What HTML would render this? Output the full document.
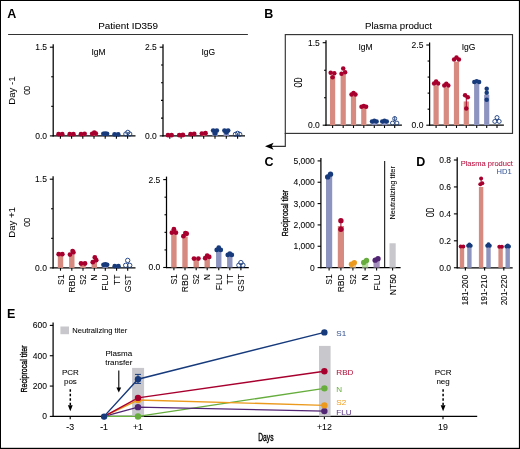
<!DOCTYPE html>
<html><head><meta charset="utf-8"><style>
html,body{margin:0;padding:0;background:#fff;}
svg{display:block;font-family:"Liberation Sans",sans-serif;will-change:transform;}
</style></head><body>
<svg width="520" height="449" viewBox="0 0 520 449">
<rect x="0" y="0" width="520" height="449" fill="#fff"/>
<rect x="0.00" y="0.00" width="520.00" height="1.00" fill="#000"/>
<rect x="0.00" y="0.00" width="1.00" height="449.00" fill="#000"/>
<rect x="518.90" y="0.00" width="1.10" height="449.00" fill="#000"/>
<rect x="0.00" y="447.80" width="520.00" height="1.20" fill="#000"/>
<text x="7.20" y="17.90" font-size="12.5" text-anchor="start" fill="#000" stroke="#000" stroke-width="0" font-weight="bold" >A</text>
<text x="128.10" y="28.80" font-size="9.9" text-anchor="middle" fill="#000" stroke="#000" stroke-width="0.06" font-weight="normal" >Patient ID359</text>
<line x1="8.10" y1="34.50" x2="247.90" y2="34.50" stroke="#333" stroke-width="1.2" />
<line x1="53.20" y1="44.20" x2="53.20" y2="136.50" stroke="#000" stroke-width="1.25" />
<line x1="49.90" y1="47.20" x2="53.20" y2="47.20" stroke="#000" stroke-width="1.1" />
<text x="47.00" y="50.13" font-size="8.5" text-anchor="end" fill="#000" stroke="#000" stroke-width="0.06" font-weight="normal" >1.5</text>
<line x1="49.90" y1="135.90" x2="53.20" y2="135.90" stroke="#000" stroke-width="1.1" />
<text x="47.00" y="138.83" font-size="8.5" text-anchor="end" fill="#000" stroke="#000" stroke-width="0.06" font-weight="normal" >0.0</text>
<line x1="51.20" y1="106.33" x2="53.20" y2="106.33" stroke="#000" stroke-width="1.1" />
<line x1="51.20" y1="76.77" x2="53.20" y2="76.77" stroke="#000" stroke-width="1.1" />
<line x1="52.70" y1="135.90" x2="135.50" y2="135.90" stroke="#000" stroke-width="1.25" />
<line x1="60.40" y1="135.90" x2="60.40" y2="138.70" stroke="#000" stroke-width="1.1" />
<line x1="71.60" y1="135.90" x2="71.60" y2="138.70" stroke="#000" stroke-width="1.1" />
<line x1="82.80" y1="135.90" x2="82.80" y2="138.70" stroke="#000" stroke-width="1.1" />
<line x1="94.00" y1="135.90" x2="94.00" y2="138.70" stroke="#000" stroke-width="1.1" />
<line x1="105.20" y1="135.90" x2="105.20" y2="138.70" stroke="#000" stroke-width="1.1" />
<line x1="116.40" y1="135.90" x2="116.40" y2="138.70" stroke="#000" stroke-width="1.1" />
<line x1="127.60" y1="135.90" x2="127.60" y2="138.70" stroke="#000" stroke-width="1.1" />
<rect x="57.70" y="134.72" width="5.40" height="1.18" fill="#d68a80"/>
<circle cx="58.60" cy="134.13" r="2.40" fill="#a8002e"/>
<circle cx="62.20" cy="134.13" r="2.40" fill="#a8002e"/>
<rect x="68.90" y="134.72" width="5.40" height="1.18" fill="#d68a80"/>
<circle cx="69.80" cy="134.13" r="2.40" fill="#a8002e"/>
<circle cx="73.40" cy="134.13" r="2.40" fill="#a8002e"/>
<rect x="80.10" y="134.42" width="5.40" height="1.48" fill="#d68a80"/>
<circle cx="81.00" cy="134.13" r="2.40" fill="#a8002e"/>
<circle cx="84.60" cy="133.83" r="2.40" fill="#a8002e"/>
<rect x="91.30" y="134.13" width="5.40" height="1.77" fill="#d68a80"/>
<circle cx="92.20" cy="133.83" r="2.40" fill="#a8002e"/>
<circle cx="94.30" cy="132.65" r="2.40" fill="#a8002e"/>
<circle cx="95.80" cy="133.53" r="2.40" fill="#a8002e"/>
<rect x="102.50" y="134.72" width="5.40" height="1.18" fill="#8d94c0"/>
<circle cx="103.40" cy="133.83" r="2.40" fill="#163a7c"/>
<circle cx="107.00" cy="133.83" r="2.40" fill="#163a7c"/>
<circle cx="105.20" cy="133.53" r="2.40" fill="#163a7c"/>
<rect x="113.70" y="135.01" width="5.40" height="0.89" fill="#8d94c0"/>
<circle cx="114.60" cy="134.42" r="2.40" fill="#163a7c"/>
<circle cx="118.20" cy="134.42" r="2.40" fill="#163a7c"/>
<text x="98.50" y="55.40" font-size="8.5" text-anchor="middle" fill="#000" stroke="#000" stroke-width="0.06" font-weight="normal" >IgM</text>
<circle cx="125.80" cy="134.00" r="2.10" fill="#fff" fill-opacity="0" stroke="#163a7c" stroke-width="0.9"/>
<circle cx="129.80" cy="134.00" r="2.10" fill="#fff" fill-opacity="0" stroke="#163a7c" stroke-width="0.9"/>
<circle cx="127.80" cy="132.30" r="2.10" fill="#fff" fill-opacity="0" stroke="#163a7c" stroke-width="0.9"/>
<line x1="163.00" y1="44.20" x2="163.00" y2="136.50" stroke="#000" stroke-width="1.25" />
<line x1="159.70" y1="47.20" x2="163.00" y2="47.20" stroke="#000" stroke-width="1.1" />
<text x="156.80" y="50.13" font-size="8.5" text-anchor="end" fill="#000" stroke="#000" stroke-width="0.06" font-weight="normal" >2.5</text>
<line x1="159.70" y1="135.90" x2="163.00" y2="135.90" stroke="#000" stroke-width="1.1" />
<text x="156.80" y="138.83" font-size="8.5" text-anchor="end" fill="#000" stroke="#000" stroke-width="0.06" font-weight="normal" >0.0</text>
<line x1="161.00" y1="118.16" x2="163.00" y2="118.16" stroke="#000" stroke-width="1.1" />
<line x1="161.00" y1="100.42" x2="163.00" y2="100.42" stroke="#000" stroke-width="1.1" />
<line x1="161.00" y1="82.68" x2="163.00" y2="82.68" stroke="#000" stroke-width="1.1" />
<line x1="161.00" y1="64.94" x2="163.00" y2="64.94" stroke="#000" stroke-width="1.1" />
<line x1="162.50" y1="135.90" x2="245.00" y2="135.90" stroke="#000" stroke-width="1.25" />
<line x1="169.80" y1="135.90" x2="169.80" y2="138.70" stroke="#000" stroke-width="1.1" />
<line x1="181.10" y1="135.90" x2="181.10" y2="138.70" stroke="#000" stroke-width="1.1" />
<line x1="192.40" y1="135.90" x2="192.40" y2="138.70" stroke="#000" stroke-width="1.1" />
<line x1="203.70" y1="135.90" x2="203.70" y2="138.70" stroke="#000" stroke-width="1.1" />
<line x1="215.00" y1="135.90" x2="215.00" y2="138.70" stroke="#000" stroke-width="1.1" />
<line x1="226.30" y1="135.90" x2="226.30" y2="138.70" stroke="#000" stroke-width="1.1" />
<line x1="237.60" y1="135.90" x2="237.60" y2="138.70" stroke="#000" stroke-width="1.1" />
<rect x="167.10" y="135.19" width="5.40" height="0.71" fill="#d68a80"/>
<circle cx="168.00" cy="135.19" r="2.40" fill="#a8002e"/>
<circle cx="171.60" cy="135.19" r="2.40" fill="#a8002e"/>
<rect x="178.40" y="135.19" width="5.40" height="0.71" fill="#d68a80"/>
<circle cx="179.30" cy="135.19" r="2.40" fill="#a8002e"/>
<circle cx="182.90" cy="135.01" r="2.40" fill="#a8002e"/>
<rect x="189.70" y="134.48" width="5.40" height="1.42" fill="#d68a80"/>
<circle cx="190.60" cy="134.13" r="2.40" fill="#a8002e"/>
<circle cx="194.20" cy="133.95" r="2.40" fill="#a8002e"/>
<rect x="201.00" y="133.77" width="5.40" height="2.13" fill="#d68a80"/>
<circle cx="201.90" cy="133.59" r="2.40" fill="#a8002e"/>
<circle cx="205.50" cy="133.24" r="2.40" fill="#a8002e"/>
<rect x="212.30" y="132.35" width="5.40" height="3.55" fill="#8d94c0"/>
<circle cx="213.20" cy="130.58" r="2.40" fill="#163a7c"/>
<circle cx="216.80" cy="130.58" r="2.40" fill="#163a7c"/>
<circle cx="215.00" cy="133.42" r="2.40" fill="#163a7c"/>
<rect x="223.60" y="131.64" width="5.40" height="4.26" fill="#8d94c0"/>
<circle cx="224.50" cy="130.58" r="2.40" fill="#163a7c"/>
<circle cx="228.10" cy="130.58" r="2.40" fill="#163a7c"/>
<circle cx="226.30" cy="132.35" r="2.40" fill="#163a7c"/>
<text x="208.30" y="55.40" font-size="8.5" text-anchor="middle" fill="#000" stroke="#000" stroke-width="0.06" font-weight="normal" >IgG</text>
<circle cx="235.40" cy="134.30" r="2.10" fill="#fff" fill-opacity="0" stroke="#163a7c" stroke-width="0.9"/>
<circle cx="239.80" cy="134.30" r="2.10" fill="#fff" fill-opacity="0" stroke="#163a7c" stroke-width="0.9"/>
<circle cx="237.60" cy="133.30" r="2.10" fill="#fff" fill-opacity="0" stroke="#163a7c" stroke-width="0.9"/>
<text transform="translate(15.00,90.65) rotate(-90)" font-size="9.6" text-anchor="middle" fill="#000" stroke="#000" stroke-width="0.06" >Day -1</text>
<text transform="translate(30.00,90.30) rotate(-90)" font-size="9.7" text-anchor="middle" fill="#000" stroke="#000" stroke-width="0.06" textLength="9.1" lengthAdjust="spacingAndGlyphs">OD</text>
<text transform="translate(15.30,222.40) rotate(-90)" font-size="9.6" text-anchor="middle" fill="#000" stroke="#000" stroke-width="0.06" >Day +1</text>
<text transform="translate(30.10,222.10) rotate(-90)" font-size="9.7" text-anchor="middle" fill="#000" stroke="#000" stroke-width="0.06" textLength="9.1" lengthAdjust="spacingAndGlyphs">OD</text>
<line x1="53.10" y1="176.20" x2="53.10" y2="268.50" stroke="#000" stroke-width="1.25" />
<line x1="49.80" y1="179.20" x2="53.10" y2="179.20" stroke="#000" stroke-width="1.1" />
<text x="46.90" y="182.13" font-size="8.5" text-anchor="end" fill="#000" stroke="#000" stroke-width="0.06" font-weight="normal" >1.5</text>
<line x1="49.80" y1="267.90" x2="53.10" y2="267.90" stroke="#000" stroke-width="1.1" />
<text x="46.90" y="270.83" font-size="8.5" text-anchor="end" fill="#000" stroke="#000" stroke-width="0.06" font-weight="normal" >0.0</text>
<line x1="51.10" y1="238.33" x2="53.10" y2="238.33" stroke="#000" stroke-width="1.1" />
<line x1="51.10" y1="208.77" x2="53.10" y2="208.77" stroke="#000" stroke-width="1.1" />
<line x1="52.60" y1="267.90" x2="135.50" y2="267.90" stroke="#000" stroke-width="1.25" />
<line x1="60.50" y1="267.90" x2="60.50" y2="270.70" stroke="#000" stroke-width="1.1" />
<line x1="71.80" y1="267.90" x2="71.80" y2="270.70" stroke="#000" stroke-width="1.1" />
<line x1="83.00" y1="267.90" x2="83.00" y2="270.70" stroke="#000" stroke-width="1.1" />
<line x1="94.30" y1="267.90" x2="94.30" y2="270.70" stroke="#000" stroke-width="1.1" />
<line x1="105.30" y1="267.90" x2="105.30" y2="270.70" stroke="#000" stroke-width="1.1" />
<line x1="116.60" y1="267.90" x2="116.60" y2="270.70" stroke="#000" stroke-width="1.1" />
<line x1="127.70" y1="267.90" x2="127.70" y2="270.70" stroke="#000" stroke-width="1.1" />
<rect x="57.80" y="255.48" width="5.40" height="12.42" fill="#d68a80"/>
<circle cx="58.70" cy="254.18" r="2.40" fill="#a8002e"/>
<circle cx="62.30" cy="254.18" r="2.40" fill="#a8002e"/>
<rect x="69.10" y="254.89" width="5.40" height="13.01" fill="#d68a80"/>
<circle cx="70.00" cy="254.59" r="2.40" fill="#a8002e"/>
<circle cx="73.40" cy="252.41" r="2.40" fill="#a8002e"/>
<circle cx="72.60" cy="251.05" r="2.40" fill="#a8002e"/>
<rect x="80.30" y="264.35" width="5.40" height="3.55" fill="#d68a80"/>
<circle cx="81.00" cy="263.52" r="2.40" fill="#a8002e"/>
<circle cx="85.00" cy="263.52" r="2.40" fill="#a8002e"/>
<rect x="91.60" y="261.99" width="5.40" height="5.91" fill="#d68a80"/>
<circle cx="94.80" cy="257.49" r="2.40" fill="#a8002e"/>
<circle cx="92.80" cy="262.22" r="2.40" fill="#a8002e"/>
<circle cx="96.20" cy="260.21" r="2.40" fill="#a8002e"/>
<rect x="102.60" y="265.53" width="5.40" height="2.37" fill="#8d94c0"/>
<circle cx="103.50" cy="264.83" r="2.40" fill="#163a7c"/>
<circle cx="107.10" cy="264.83" r="2.40" fill="#163a7c"/>
<circle cx="105.30" cy="264.35" r="2.40" fill="#163a7c"/>
<rect x="113.90" y="266.72" width="5.40" height="1.18" fill="#8d94c0"/>
<circle cx="114.80" cy="266.13" r="2.40" fill="#163a7c"/>
<circle cx="118.40" cy="266.13" r="2.40" fill="#163a7c"/>
<text x="98.50" y="187.40" font-size="8.5" text-anchor="middle" fill="#000" stroke="#000" stroke-width="0.06" font-weight="normal" ></text>
<text transform="translate(63.50,274.50) rotate(-90)" font-size="8.6" text-anchor="end" fill="#000" stroke="#000" stroke-width="0.06" >S1</text>
<text transform="translate(74.80,274.50) rotate(-90)" font-size="8.6" text-anchor="end" fill="#000" stroke="#000" stroke-width="0.06" >RBD</text>
<text transform="translate(86.00,274.50) rotate(-90)" font-size="8.6" text-anchor="end" fill="#000" stroke="#000" stroke-width="0.06" >S2</text>
<text transform="translate(97.30,274.50) rotate(-90)" font-size="8.6" text-anchor="end" fill="#000" stroke="#000" stroke-width="0.06" >N</text>
<text transform="translate(108.30,274.50) rotate(-90)" font-size="8.6" text-anchor="end" fill="#000" stroke="#000" stroke-width="0.06" >FLU</text>
<text transform="translate(119.60,274.50) rotate(-90)" font-size="8.6" text-anchor="end" fill="#000" stroke="#000" stroke-width="0.06" >TT</text>
<text transform="translate(130.70,274.50) rotate(-90)" font-size="8.6" text-anchor="end" fill="#000" stroke="#000" stroke-width="0.06" >GST</text>
<circle cx="125.70" cy="265.30" r="2.20" fill="#fff" fill-opacity="0" stroke="#163a7c" stroke-width="0.9"/>
<circle cx="129.70" cy="265.30" r="2.20" fill="#fff" fill-opacity="0" stroke="#163a7c" stroke-width="0.9"/>
<circle cx="127.70" cy="260.40" r="2.20" fill="#fff" fill-opacity="0" stroke="#163a7c" stroke-width="0.9"/>
<line x1="166.50" y1="176.60" x2="166.50" y2="268.10" stroke="#000" stroke-width="1.25" />
<line x1="163.20" y1="179.60" x2="166.50" y2="179.60" stroke="#000" stroke-width="1.1" />
<text x="160.30" y="182.53" font-size="8.5" text-anchor="end" fill="#000" stroke="#000" stroke-width="0.06" font-weight="normal" >2.5</text>
<line x1="163.20" y1="267.50" x2="166.50" y2="267.50" stroke="#000" stroke-width="1.1" />
<text x="160.30" y="270.43" font-size="8.5" text-anchor="end" fill="#000" stroke="#000" stroke-width="0.06" font-weight="normal" >0.0</text>
<line x1="164.50" y1="249.92" x2="166.50" y2="249.92" stroke="#000" stroke-width="1.1" />
<line x1="164.50" y1="232.34" x2="166.50" y2="232.34" stroke="#000" stroke-width="1.1" />
<line x1="164.50" y1="214.76" x2="166.50" y2="214.76" stroke="#000" stroke-width="1.1" />
<line x1="164.50" y1="197.18" x2="166.50" y2="197.18" stroke="#000" stroke-width="1.1" />
<line x1="166.00" y1="267.50" x2="248.80" y2="267.50" stroke="#000" stroke-width="1.25" />
<line x1="173.90" y1="267.50" x2="173.90" y2="270.30" stroke="#000" stroke-width="1.1" />
<line x1="185.00" y1="267.50" x2="185.00" y2="270.30" stroke="#000" stroke-width="1.1" />
<line x1="196.20" y1="267.50" x2="196.20" y2="270.30" stroke="#000" stroke-width="1.1" />
<line x1="207.20" y1="267.50" x2="207.20" y2="270.30" stroke="#000" stroke-width="1.1" />
<line x1="218.75" y1="267.50" x2="218.75" y2="270.30" stroke="#000" stroke-width="1.1" />
<line x1="229.80" y1="267.50" x2="229.80" y2="270.30" stroke="#000" stroke-width="1.1" />
<line x1="240.90" y1="267.50" x2="240.90" y2="270.30" stroke="#000" stroke-width="1.1" />
<rect x="171.20" y="234.45" width="5.40" height="33.05" fill="#d68a80"/>
<circle cx="171.90" cy="232.69" r="2.40" fill="#a8002e"/>
<circle cx="175.90" cy="232.69" r="2.40" fill="#a8002e"/>
<circle cx="173.90" cy="229.18" r="2.40" fill="#a8002e"/>
<rect x="182.30" y="236.56" width="5.40" height="30.94" fill="#d68a80"/>
<circle cx="183.40" cy="236.21" r="2.40" fill="#a8002e"/>
<circle cx="186.70" cy="233.75" r="2.40" fill="#a8002e"/>
<circle cx="185.40" cy="233.04" r="2.40" fill="#a8002e"/>
<rect x="193.50" y="258.71" width="5.40" height="8.79" fill="#d68a80"/>
<circle cx="194.00" cy="258.53" r="2.40" fill="#a8002e"/>
<circle cx="198.40" cy="258.53" r="2.40" fill="#a8002e"/>
<rect x="204.50" y="259.06" width="5.40" height="8.44" fill="#d68a80"/>
<circle cx="205.20" cy="258.22" r="2.40" fill="#a8002e"/>
<circle cx="207.20" cy="255.72" r="2.40" fill="#a8002e"/>
<circle cx="209.20" cy="256.95" r="2.40" fill="#a8002e"/>
<rect x="216.05" y="249.92" width="5.40" height="17.58" fill="#8d94c0"/>
<circle cx="216.75" cy="249.92" r="2.40" fill="#163a7c"/>
<circle cx="220.75" cy="249.92" r="2.40" fill="#163a7c"/>
<circle cx="218.75" cy="247.63" r="2.40" fill="#163a7c"/>
<rect x="227.10" y="255.55" width="5.40" height="11.95" fill="#8d94c0"/>
<circle cx="227.80" cy="254.91" r="2.40" fill="#163a7c"/>
<circle cx="231.80" cy="254.91" r="2.40" fill="#163a7c"/>
<circle cx="229.80" cy="253.58" r="2.40" fill="#163a7c"/>
<text x="0.00" y="187.80" font-size="8.5" text-anchor="middle" fill="#000" stroke="#000" stroke-width="0.06" font-weight="normal" ></text>
<text transform="translate(176.90,274.10) rotate(-90)" font-size="8.6" text-anchor="end" fill="#000" stroke="#000" stroke-width="0.06" >S1</text>
<text transform="translate(188.00,274.10) rotate(-90)" font-size="8.6" text-anchor="end" fill="#000" stroke="#000" stroke-width="0.06" >RBD</text>
<text transform="translate(199.20,274.10) rotate(-90)" font-size="8.6" text-anchor="end" fill="#000" stroke="#000" stroke-width="0.06" >S2</text>
<text transform="translate(210.20,274.10) rotate(-90)" font-size="8.6" text-anchor="end" fill="#000" stroke="#000" stroke-width="0.06" >N</text>
<text transform="translate(221.75,274.10) rotate(-90)" font-size="8.6" text-anchor="end" fill="#000" stroke="#000" stroke-width="0.06" >FLU</text>
<text transform="translate(232.80,274.10) rotate(-90)" font-size="8.6" text-anchor="end" fill="#000" stroke="#000" stroke-width="0.06" >TT</text>
<text transform="translate(243.90,274.10) rotate(-90)" font-size="8.6" text-anchor="end" fill="#000" stroke="#000" stroke-width="0.06" >GST</text>
<circle cx="238.90" cy="265.20" r="2.20" fill="#fff" fill-opacity="0" stroke="#163a7c" stroke-width="0.9"/>
<circle cx="242.90" cy="265.20" r="2.20" fill="#fff" fill-opacity="0" stroke="#163a7c" stroke-width="0.9"/>
<circle cx="240.90" cy="262.60" r="2.20" fill="#fff" fill-opacity="0" stroke="#163a7c" stroke-width="0.9"/>
<text x="264.20" y="17.80" font-size="12.5" text-anchor="start" fill="#000" stroke="#000" stroke-width="0" font-weight="bold" >B</text>
<text x="398.50" y="28.80" font-size="9.65" text-anchor="middle" fill="#000" stroke="#000" stroke-width="0.06" font-weight="normal" >Plasma product</text>
<rect x="285.3" y="34.6" width="227.2" height="98.8" fill="none" stroke="#333" stroke-width="1.15"/>
<polyline points="285.3,133 285.3,146.3 270,146.3" fill="none" stroke="#333" stroke-width="1.15"/>
<polygon points="265.0,146.3 273.6,142.8 271.6,146.3 273.6,149.8" fill="#000"/>
<line x1="326.00" y1="40.20" x2="326.00" y2="125.80" stroke="#000" stroke-width="1.25" />
<line x1="322.70" y1="42.70" x2="326.00" y2="42.70" stroke="#000" stroke-width="1.1" />
<text x="319.80" y="45.63" font-size="8.5" text-anchor="end" fill="#000" stroke="#000" stroke-width="0.06" font-weight="normal" >1.5</text>
<line x1="322.70" y1="125.20" x2="326.00" y2="125.20" stroke="#000" stroke-width="1.1" />
<text x="319.80" y="128.13" font-size="8.5" text-anchor="end" fill="#000" stroke="#000" stroke-width="0.06" font-weight="normal" >0.0</text>
<line x1="324.00" y1="97.70" x2="326.00" y2="97.70" stroke="#000" stroke-width="1.1" />
<line x1="324.00" y1="70.20" x2="326.00" y2="70.20" stroke="#000" stroke-width="1.1" />
<line x1="325.50" y1="125.20" x2="401.90" y2="125.20" stroke="#000" stroke-width="1.25" />
<line x1="332.60" y1="125.20" x2="332.60" y2="128.00" stroke="#000" stroke-width="1.1" />
<line x1="343.20" y1="125.20" x2="343.20" y2="128.00" stroke="#000" stroke-width="1.1" />
<line x1="353.50" y1="125.20" x2="353.50" y2="128.00" stroke="#000" stroke-width="1.1" />
<line x1="363.80" y1="125.20" x2="363.80" y2="128.00" stroke="#000" stroke-width="1.1" />
<line x1="374.30" y1="125.20" x2="374.30" y2="128.00" stroke="#000" stroke-width="1.1" />
<line x1="384.50" y1="125.20" x2="384.50" y2="128.00" stroke="#000" stroke-width="1.1" />
<line x1="394.70" y1="125.20" x2="394.70" y2="128.00" stroke="#000" stroke-width="1.1" />
<rect x="330.00" y="75.70" width="5.20" height="49.50" fill="#d68a80"/>
<circle cx="330.70" cy="72.78" r="2.25" fill="#a8002e"/>
<circle cx="334.30" cy="73.28" r="2.25" fill="#a8002e"/>
<circle cx="332.60" cy="77.19" r="2.25" fill="#a8002e"/>
<rect x="340.60" y="74.05" width="5.20" height="51.15" fill="#d68a80"/>
<circle cx="341.50" cy="73.78" r="2.25" fill="#a8002e"/>
<circle cx="345.10" cy="72.29" r="2.25" fill="#a8002e"/>
<circle cx="343.20" cy="68.39" r="2.25" fill="#a8002e"/>
<rect x="350.90" y="94.40" width="5.20" height="30.80" fill="#d68a80"/>
<circle cx="351.50" cy="94.40" r="2.25" fill="#a8002e"/>
<circle cx="355.50" cy="94.40" r="2.25" fill="#a8002e"/>
<circle cx="353.50" cy="92.92" r="2.25" fill="#a8002e"/>
<rect x="361.20" y="107.05" width="5.20" height="18.15" fill="#d68a80"/>
<circle cx="361.50" cy="106.78" r="2.25" fill="#a8002e"/>
<circle cx="366.10" cy="106.78" r="2.25" fill="#a8002e"/>
<circle cx="363.80" cy="105.95" r="2.25" fill="#a8002e"/>
<rect x="371.70" y="121.90" width="5.20" height="3.30" fill="#8d94c0"/>
<circle cx="372.00" cy="121.62" r="2.25" fill="#163a7c"/>
<circle cx="376.60" cy="121.62" r="2.25" fill="#163a7c"/>
<circle cx="374.30" cy="120.80" r="2.25" fill="#163a7c"/>
<rect x="381.90" y="121.90" width="5.20" height="3.30" fill="#8d94c0"/>
<circle cx="382.20" cy="121.62" r="2.25" fill="#163a7c"/>
<circle cx="386.80" cy="121.62" r="2.25" fill="#163a7c"/>
<circle cx="384.50" cy="120.80" r="2.25" fill="#163a7c"/>
<text x="365.50" y="50.00" font-size="8.5" text-anchor="middle" fill="#000" stroke="#000" stroke-width="0.06" font-weight="normal" >IgM</text>
<circle cx="392.50" cy="123.10" r="2.00" fill="#fff" fill-opacity="0" stroke="#163a7c" stroke-width="0.9"/>
<circle cx="396.90" cy="123.10" r="2.00" fill="#fff" fill-opacity="0" stroke="#163a7c" stroke-width="0.9"/>
<circle cx="394.70" cy="118.54" r="2.00" fill="#fff" fill-opacity="0" stroke="#163a7c" stroke-width="0.9"/>
<line x1="394.70" y1="116.50" x2="394.70" y2="121.50" stroke="#163a7c" stroke-width="0.9" />
<line x1="429.60" y1="42.50" x2="429.60" y2="125.80" stroke="#000" stroke-width="1.25" />
<line x1="426.30" y1="45.00" x2="429.60" y2="45.00" stroke="#000" stroke-width="1.1" />
<text x="423.40" y="47.93" font-size="8.5" text-anchor="end" fill="#000" stroke="#000" stroke-width="0.06" font-weight="normal" >2.5</text>
<line x1="426.30" y1="125.20" x2="429.60" y2="125.20" stroke="#000" stroke-width="1.1" />
<text x="423.40" y="128.13" font-size="8.5" text-anchor="end" fill="#000" stroke="#000" stroke-width="0.06" font-weight="normal" >0.0</text>
<line x1="427.60" y1="109.16" x2="429.60" y2="109.16" stroke="#000" stroke-width="1.1" />
<line x1="427.60" y1="93.12" x2="429.60" y2="93.12" stroke="#000" stroke-width="1.1" />
<line x1="427.60" y1="77.08" x2="429.60" y2="77.08" stroke="#000" stroke-width="1.1" />
<line x1="427.60" y1="61.04" x2="429.60" y2="61.04" stroke="#000" stroke-width="1.1" />
<line x1="429.10" y1="125.20" x2="503.90" y2="125.20" stroke="#000" stroke-width="1.25" />
<line x1="436.10" y1="125.20" x2="436.10" y2="128.00" stroke="#000" stroke-width="1.1" />
<line x1="446.30" y1="125.20" x2="446.30" y2="128.00" stroke="#000" stroke-width="1.1" />
<line x1="456.50" y1="125.20" x2="456.50" y2="128.00" stroke="#000" stroke-width="1.1" />
<line x1="466.30" y1="125.20" x2="466.30" y2="128.00" stroke="#000" stroke-width="1.1" />
<line x1="476.70" y1="125.20" x2="476.70" y2="128.00" stroke="#000" stroke-width="1.1" />
<line x1="486.70" y1="125.20" x2="486.70" y2="128.00" stroke="#000" stroke-width="1.1" />
<line x1="497.00" y1="125.20" x2="497.00" y2="128.00" stroke="#000" stroke-width="1.1" />
<rect x="433.50" y="85.42" width="5.20" height="39.78" fill="#d68a80"/>
<circle cx="434.10" cy="83.50" r="2.25" fill="#a8002e"/>
<circle cx="438.10" cy="83.50" r="2.25" fill="#a8002e"/>
<circle cx="436.10" cy="81.57" r="2.25" fill="#a8002e"/>
<rect x="443.70" y="87.35" width="5.20" height="37.85" fill="#d68a80"/>
<circle cx="444.30" cy="85.42" r="2.25" fill="#a8002e"/>
<circle cx="448.30" cy="85.42" r="2.25" fill="#a8002e"/>
<circle cx="446.30" cy="83.82" r="2.25" fill="#a8002e"/>
<rect x="453.90" y="61.68" width="5.20" height="63.52" fill="#d68a80"/>
<circle cx="454.10" cy="59.44" r="2.25" fill="#a8002e"/>
<circle cx="458.90" cy="59.44" r="2.25" fill="#a8002e"/>
<circle cx="456.50" cy="57.51" r="2.25" fill="#a8002e"/>
<rect x="463.70" y="101.46" width="5.20" height="23.74" fill="#d68a80"/>
<circle cx="465.10" cy="95.37" r="2.25" fill="#a8002e"/>
<circle cx="467.80" cy="97.29" r="2.25" fill="#a8002e"/>
<circle cx="466.30" cy="108.52" r="2.25" fill="#a8002e"/>
<rect x="474.10" y="83.50" width="5.20" height="41.70" fill="#8d94c0"/>
<circle cx="474.30" cy="81.89" r="2.25" fill="#163a7c"/>
<circle cx="479.10" cy="81.89" r="2.25" fill="#163a7c"/>
<circle cx="476.70" cy="81.25" r="2.25" fill="#163a7c"/>
<rect x="484.10" y="94.72" width="5.20" height="30.48" fill="#8d94c0"/>
<circle cx="486.70" cy="88.63" r="2.25" fill="#163a7c"/>
<circle cx="486.70" cy="92.80" r="2.25" fill="#163a7c"/>
<circle cx="486.70" cy="99.86" r="2.25" fill="#163a7c"/>
<text x="468.50" y="50.00" font-size="8.5" text-anchor="middle" fill="#000" stroke="#000" stroke-width="0.06" font-weight="normal" >IgG</text>
<line x1="466.30" y1="95.37" x2="466.30" y2="108.52" stroke="#a8002e" stroke-width="1.0" />
<circle cx="494.80" cy="121.40" r="2.00" fill="#fff" fill-opacity="0" stroke="#163a7c" stroke-width="0.9"/>
<circle cx="499.20" cy="121.40" r="2.00" fill="#fff" fill-opacity="0" stroke="#163a7c" stroke-width="0.9"/>
<circle cx="497.00" cy="117.55" r="2.00" fill="#fff" fill-opacity="0" stroke="#163a7c" stroke-width="0.9"/>
<text transform="translate(302.40,82.40) rotate(-90)" font-size="10.8" text-anchor="middle" fill="#000" stroke="#000" stroke-width="0.06" textLength="10.0" lengthAdjust="spacingAndGlyphs">OD</text>
<text x="264.50" y="166.20" font-size="12.5" text-anchor="start" fill="#000" stroke="#000" stroke-width="0" font-weight="bold" >C</text>
<line x1="320.90" y1="157.90" x2="320.90" y2="268.20" stroke="#000" stroke-width="1.25" />
<line x1="317.60" y1="267.60" x2="320.90" y2="267.60" stroke="#000" stroke-width="1.1" />
<text x="314.70" y="270.53" font-size="8.5" text-anchor="end" fill="#000" stroke="#000" stroke-width="0.06" font-weight="normal" >0</text>
<line x1="317.60" y1="246.26" x2="320.90" y2="246.26" stroke="#000" stroke-width="1.1" />
<text x="314.70" y="249.19" font-size="8.5" text-anchor="end" fill="#000" stroke="#000" stroke-width="0.06" font-weight="normal" >1,000</text>
<line x1="317.60" y1="224.92" x2="320.90" y2="224.92" stroke="#000" stroke-width="1.1" />
<text x="314.70" y="227.85" font-size="8.5" text-anchor="end" fill="#000" stroke="#000" stroke-width="0.06" font-weight="normal" >2,000</text>
<line x1="317.60" y1="203.58" x2="320.90" y2="203.58" stroke="#000" stroke-width="1.1" />
<text x="314.70" y="206.51" font-size="8.5" text-anchor="end" fill="#000" stroke="#000" stroke-width="0.06" font-weight="normal" >3,000</text>
<line x1="317.60" y1="182.24" x2="320.90" y2="182.24" stroke="#000" stroke-width="1.1" />
<text x="314.70" y="185.17" font-size="8.5" text-anchor="end" fill="#000" stroke="#000" stroke-width="0.06" font-weight="normal" >4,000</text>
<line x1="317.60" y1="160.90" x2="320.90" y2="160.90" stroke="#000" stroke-width="1.1" />
<text x="314.70" y="163.83" font-size="8.5" text-anchor="end" fill="#000" stroke="#000" stroke-width="0.06" font-weight="normal" >5,000</text>
<line x1="320.40" y1="267.60" x2="400.60" y2="267.60" stroke="#000" stroke-width="1.25" />
<line x1="329.10" y1="267.60" x2="329.10" y2="270.40" stroke="#000" stroke-width="1.1" />
<line x1="340.90" y1="267.60" x2="340.90" y2="270.40" stroke="#000" stroke-width="1.1" />
<line x1="352.90" y1="267.60" x2="352.90" y2="270.40" stroke="#000" stroke-width="1.1" />
<line x1="365.10" y1="267.60" x2="365.10" y2="270.40" stroke="#000" stroke-width="1.1" />
<line x1="376.60" y1="267.60" x2="376.60" y2="270.40" stroke="#000" stroke-width="1.1" />
<line x1="392.60" y1="267.60" x2="392.60" y2="270.40" stroke="#000" stroke-width="1.1" />
<rect x="326.00" y="175.84" width="6.20" height="91.76" fill="#8d94c0"/>
<circle cx="327.70" cy="176.91" r="2.70" fill="#163a7c"/>
<circle cx="330.50" cy="174.13" r="2.70" fill="#163a7c"/>
<rect x="337.80" y="225.99" width="6.20" height="41.61" fill="#d68a80"/>
<circle cx="340.90" cy="220.65" r="2.70" fill="#a8002e"/>
<circle cx="340.90" cy="229.19" r="2.70" fill="#a8002e"/>
<rect x="349.80" y="263.76" width="6.20" height="3.84" fill="#f5c98a"/>
<circle cx="351.50" cy="264.19" r="2.70" fill="#eb9a1e"/>
<circle cx="354.30" cy="262.69" r="2.70" fill="#eb9a1e"/>
<rect x="362.00" y="262.05" width="6.20" height="5.55" fill="#b9dca0"/>
<circle cx="363.70" cy="262.48" r="2.70" fill="#66ad3d"/>
<circle cx="366.50" cy="260.56" r="2.70" fill="#66ad3d"/>
<rect x="373.50" y="260.13" width="6.20" height="7.47" fill="#a58fbd"/>
<circle cx="375.20" cy="260.13" r="2.70" fill="#522474"/>
<circle cx="378.00" cy="258.64" r="2.70" fill="#522474"/>
<rect x="389.50" y="243.27" width="6.20" height="24.33" fill="#c8c8cc"/>
<line x1="340.90" y1="220.65" x2="340.90" y2="229.19" stroke="#a8002e" stroke-width="1" />
<line x1="384.70" y1="161.00" x2="384.70" y2="267.60" stroke="#000" stroke-width="1" />
<text transform="translate(332.10,274.20) rotate(-90)" font-size="8.6" text-anchor="end" fill="#000" stroke="#000" stroke-width="0.06" >S1</text>
<text transform="translate(343.90,274.20) rotate(-90)" font-size="8.6" text-anchor="end" fill="#000" stroke="#000" stroke-width="0.06" >RBD</text>
<text transform="translate(355.90,274.20) rotate(-90)" font-size="8.6" text-anchor="end" fill="#000" stroke="#000" stroke-width="0.06" >S2</text>
<text transform="translate(368.10,274.20) rotate(-90)" font-size="8.6" text-anchor="end" fill="#000" stroke="#000" stroke-width="0.06" >N</text>
<text transform="translate(379.60,274.20) rotate(-90)" font-size="8.6" text-anchor="end" fill="#000" stroke="#000" stroke-width="0.06" >FLU</text>
<text transform="translate(395.60,274.20) rotate(-90)" font-size="8.6" text-anchor="end" fill="#000" stroke="#000" stroke-width="0.06" >NT50</text>
<text transform="translate(287.60,213.00) rotate(-90)" font-size="9.7" text-anchor="middle" fill="#000" stroke="#000" stroke-width="0.3" textLength="46.3" lengthAdjust="spacingAndGlyphs">Reciprocal titer</text>
<text transform="translate(394.50,192.85) rotate(-90)" font-size="7.4" text-anchor="middle" fill="#000" stroke="#000" stroke-width="0.06" >Neutralizing titer</text>
<text x="416.20" y="166.10" font-size="12.5" text-anchor="start" fill="#000" stroke="#000" stroke-width="0" font-weight="bold" >D</text>
<line x1="457.20" y1="157.20" x2="457.20" y2="268.35" stroke="#000" stroke-width="1.25" />
<line x1="453.90" y1="267.75" x2="457.20" y2="267.75" stroke="#000" stroke-width="1.1" />
<text x="451.00" y="270.68" font-size="8.5" text-anchor="end" fill="#000" stroke="#000" stroke-width="0.06" font-weight="normal" >0.0</text>
<line x1="453.90" y1="240.81" x2="457.20" y2="240.81" stroke="#000" stroke-width="1.1" />
<text x="451.00" y="243.75" font-size="8.5" text-anchor="end" fill="#000" stroke="#000" stroke-width="0.06" font-weight="normal" >0.2</text>
<line x1="453.90" y1="213.88" x2="457.20" y2="213.88" stroke="#000" stroke-width="1.1" />
<text x="451.00" y="216.81" font-size="8.5" text-anchor="end" fill="#000" stroke="#000" stroke-width="0.06" font-weight="normal" >0.4</text>
<line x1="453.90" y1="186.94" x2="457.20" y2="186.94" stroke="#000" stroke-width="1.1" />
<text x="451.00" y="189.87" font-size="8.5" text-anchor="end" fill="#000" stroke="#000" stroke-width="0.06" font-weight="normal" >0.6</text>
<line x1="453.90" y1="160.00" x2="457.20" y2="160.00" stroke="#000" stroke-width="1.1" />
<text x="451.00" y="162.93" font-size="8.5" text-anchor="end" fill="#000" stroke="#000" stroke-width="0.06" font-weight="normal" >0.8</text>
<line x1="456.70" y1="267.75" x2="512.70" y2="267.75" stroke="#000" stroke-width="1.25" />
<line x1="465.40" y1="267.75" x2="465.40" y2="270.55" stroke="#000" stroke-width="1.1" />
<line x1="484.60" y1="267.75" x2="484.60" y2="270.55" stroke="#000" stroke-width="1.1" />
<line x1="503.80" y1="267.75" x2="503.80" y2="270.55" stroke="#000" stroke-width="1.1" />
<rect x="459.80" y="247.55" width="4.40" height="20.20" fill="#d68a80"/>
<circle cx="460.70" cy="246.60" r="2.00" fill="#a8002e"/>
<circle cx="463.30" cy="246.60" r="2.00" fill="#a8002e"/>
<rect x="467.20" y="246.20" width="4.40" height="21.55" fill="#8d94c0"/>
<circle cx="468.10" cy="245.80" r="2.00" fill="#163a7c"/>
<circle cx="470.70" cy="245.80" r="2.00" fill="#163a7c"/>
<circle cx="469.40" cy="244.58" r="2.00" fill="#163a7c"/>
<rect x="478.90" y="186.94" width="4.40" height="80.81" fill="#d68a80"/>
<circle cx="481.10" cy="178.45" r="2.00" fill="#a8002e"/>
<circle cx="480.30" cy="184.24" r="2.00" fill="#a8002e"/>
<circle cx="482.30" cy="183.17" r="2.00" fill="#a8002e"/>
<rect x="486.30" y="246.20" width="4.40" height="21.55" fill="#8d94c0"/>
<circle cx="487.20" cy="245.80" r="2.00" fill="#163a7c"/>
<circle cx="489.80" cy="245.80" r="2.00" fill="#163a7c"/>
<circle cx="488.50" cy="244.18" r="2.00" fill="#163a7c"/>
<rect x="498.40" y="247.55" width="4.40" height="20.20" fill="#d68a80"/>
<circle cx="499.30" cy="246.87" r="2.00" fill="#a8002e"/>
<circle cx="501.90" cy="246.87" r="2.00" fill="#a8002e"/>
<rect x="505.50" y="246.87" width="4.40" height="20.88" fill="#8d94c0"/>
<circle cx="506.40" cy="246.47" r="2.00" fill="#163a7c"/>
<circle cx="509.00" cy="246.47" r="2.00" fill="#163a7c"/>
<circle cx="507.70" cy="245.53" r="2.00" fill="#163a7c"/>
<line x1="481.10" y1="178.45" x2="481.10" y2="184.24" stroke="#a8002e" stroke-width="0.9" />
<text transform="translate(434.00,212.35) rotate(-90)" font-size="11.4" text-anchor="middle" fill="#000" stroke="#000" stroke-width="0.06" textLength="9.6" lengthAdjust="spacingAndGlyphs">OD</text>
<text x="512.75" y="165.90" font-size="7.5" text-anchor="end" fill="#b8103f" stroke="#b8103f" stroke-width="0.06" font-weight="normal" >Plasma product</text>
<text x="511.60" y="173.80" font-size="7.5" text-anchor="end" fill="#3a5a9c" stroke="#3a5a9c" stroke-width="0.06" font-weight="normal" >HD1</text>
<text transform="translate(468.10,274.60) rotate(-90)" font-size="8.4" text-anchor="end" fill="#000" stroke="#000" stroke-width="0.06" >181-200</text>
<text transform="translate(487.30,274.60) rotate(-90)" font-size="8.4" text-anchor="end" fill="#000" stroke="#000" stroke-width="0.06" >191-210</text>
<text transform="translate(506.80,274.60) rotate(-90)" font-size="8.4" text-anchor="end" fill="#000" stroke="#000" stroke-width="0.06" >201-220</text>
<text x="6.90" y="318.40" font-size="12.5" text-anchor="start" fill="#000" stroke="#000" stroke-width="0" font-weight="bold" >E</text>
<line x1="53.10" y1="322.40" x2="53.10" y2="417.00" stroke="#000" stroke-width="1.25" />
<line x1="49.80" y1="416.40" x2="53.10" y2="416.40" stroke="#000" stroke-width="1.1" />
<text x="46.90" y="419.33" font-size="8.5" text-anchor="end" fill="#000" stroke="#000" stroke-width="0.06" font-weight="normal" >0</text>
<line x1="49.80" y1="386.07" x2="53.10" y2="386.07" stroke="#000" stroke-width="1.1" />
<text x="46.90" y="389.00" font-size="8.5" text-anchor="end" fill="#000" stroke="#000" stroke-width="0.06" font-weight="normal" >200</text>
<line x1="49.80" y1="355.73" x2="53.10" y2="355.73" stroke="#000" stroke-width="1.1" />
<text x="46.90" y="358.67" font-size="8.5" text-anchor="end" fill="#000" stroke="#000" stroke-width="0.06" font-weight="normal" >400</text>
<line x1="49.80" y1="325.40" x2="53.10" y2="325.40" stroke="#000" stroke-width="1.1" />
<text x="46.90" y="328.33" font-size="8.5" text-anchor="end" fill="#000" stroke="#000" stroke-width="0.06" font-weight="normal" >600</text>
<line x1="52.50" y1="416.40" x2="477.20" y2="416.40" stroke="#000" stroke-width="1.25" />
<line x1="70.21" y1="416.40" x2="70.21" y2="419.20" stroke="#000" stroke-width="1.1" />
<line x1="104.10" y1="416.40" x2="104.10" y2="419.20" stroke="#000" stroke-width="1.1" />
<line x1="137.99" y1="416.40" x2="137.99" y2="419.20" stroke="#000" stroke-width="1.1" />
<line x1="324.38" y1="416.40" x2="324.38" y2="419.20" stroke="#000" stroke-width="1.1" />
<line x1="443.00" y1="416.40" x2="443.00" y2="419.20" stroke="#000" stroke-width="1.1" />
<rect x="132.10" y="367.90" width="12.00" height="48.50" fill="#c8c8cc"/>
<rect x="319.00" y="345.90" width="11.60" height="70.50" fill="#c8c8cc"/>
<polyline points="104.10,416.40 137.99,416.40 324.38,388.34" fill="none" stroke="#66ad3d" stroke-width="1.4"/>
<polyline points="104.10,416.40 137.99,407.15 324.38,411.09" fill="none" stroke="#522474" stroke-width="1.4"/>
<polyline points="104.10,416.40 137.99,400.02 324.38,405.33" fill="none" stroke="#eb9a1e" stroke-width="1.4"/>
<polyline points="104.10,416.40 137.99,397.90 324.38,371.20" fill="none" stroke="#a8002e" stroke-width="1.4"/>
<polyline points="104.10,416.40 137.99,379.24 324.38,332.38" fill="none" stroke="#163a7c" stroke-width="1.4"/>
<line x1="137.99" y1="374.40" x2="137.99" y2="383.40" stroke="#163a7c" stroke-width="1" />
<line x1="134.99" y1="374.40" x2="140.99" y2="374.40" stroke="#163a7c" stroke-width="1" />
<line x1="134.99" y1="383.40" x2="140.99" y2="383.40" stroke="#163a7c" stroke-width="1" />
<circle cx="137.99" cy="416.40" r="3.20" fill="#66ad3d"/>
<circle cx="324.38" cy="388.34" r="3.20" fill="#66ad3d"/>
<circle cx="137.99" cy="407.15" r="3.20" fill="#522474"/>
<circle cx="324.38" cy="411.09" r="3.20" fill="#522474"/>
<circle cx="137.99" cy="400.02" r="3.20" fill="#eb9a1e"/>
<circle cx="324.38" cy="405.33" r="3.20" fill="#eb9a1e"/>
<circle cx="137.99" cy="397.90" r="3.20" fill="#a8002e"/>
<circle cx="324.38" cy="371.20" r="3.20" fill="#a8002e"/>
<circle cx="137.99" cy="379.24" r="3.20" fill="#163a7c"/>
<circle cx="324.38" cy="332.38" r="3.20" fill="#163a7c"/>
<circle cx="104.10" cy="416.60" r="3.20" fill="#163a7c"/>
<text x="70.21" y="430.00" font-size="8.8" text-anchor="middle" fill="#000" stroke="#000" stroke-width="0.06" font-weight="normal" >-3</text>
<text x="104.10" y="430.00" font-size="8.8" text-anchor="middle" fill="#000" stroke="#000" stroke-width="0.06" font-weight="normal" >-1</text>
<text x="137.99" y="430.00" font-size="8.8" text-anchor="middle" fill="#000" stroke="#000" stroke-width="0.06" font-weight="normal" >+1</text>
<text x="324.38" y="430.00" font-size="8.8" text-anchor="middle" fill="#000" stroke="#000" stroke-width="0.06" font-weight="normal" >+12</text>
<text x="443.00" y="430.00" font-size="8.8" text-anchor="middle" fill="#000" stroke="#000" stroke-width="0.06" font-weight="normal" >19</text>
<text x="265.90" y="440.80" font-size="10.6" text-anchor="middle" fill="#000" stroke="#000" stroke-width="0.4" font-weight="normal" textLength="15.2" lengthAdjust="spacingAndGlyphs">Days</text>
<text transform="translate(26.50,369.00) rotate(-90)" font-size="9.2" text-anchor="middle" fill="#000" stroke="#000" stroke-width="0.35" textLength="47" lengthAdjust="spacingAndGlyphs">Reciprocal titer</text>
<rect x="60.40" y="326.50" width="8.60" height="7.70" fill="#c8c8cc"/>
<text x="72.30" y="333.30" font-size="7.6" text-anchor="start" fill="#000" stroke="#000" stroke-width="0.06" font-weight="normal" >Neutralizing titer</text>
<text x="336.30" y="335.90" font-size="8.1" text-anchor="start" fill="#3d5a98" stroke="#3d5a98" stroke-width="0.06" font-weight="normal" >S1</text>
<text x="336.30" y="375.20" font-size="8.1" text-anchor="start" fill="#b51840" stroke="#b51840" stroke-width="0.06" font-weight="normal" >RBD</text>
<text x="336.30" y="391.90" font-size="8.1" text-anchor="start" fill="#72b548" stroke="#72b548" stroke-width="0.06" font-weight="normal" >N</text>
<text x="336.30" y="405.30" font-size="8.1" text-anchor="start" fill="#f0a428" stroke="#f0a428" stroke-width="0.06" font-weight="normal" >S2</text>
<text x="336.30" y="415.30" font-size="8.1" text-anchor="start" fill="#66408a" stroke="#66408a" stroke-width="0.06" font-weight="normal" >FLU</text>
<text x="70.40" y="374.80" font-size="8.0" text-anchor="middle" fill="#000" stroke="#000" stroke-width="0.06" font-weight="normal" >PCR</text>
<text x="70.40" y="383.80" font-size="8.0" text-anchor="middle" fill="#000" stroke="#000" stroke-width="0.06" font-weight="normal" >pos</text>
<line x1="70.30" y1="389.20" x2="70.30" y2="405.60" stroke="#000" stroke-width="1.5" stroke-dasharray="2.5,2"/>
<polygon points="67.9,405.3 72.7,405.3 70.3,411.2" fill="#000"/>
<text x="118.80" y="356.20" font-size="8.0" text-anchor="middle" fill="#000" stroke="#000" stroke-width="0.06" font-weight="normal" >Plasma</text>
<text x="118.80" y="365.20" font-size="8.0" text-anchor="middle" fill="#000" stroke="#000" stroke-width="0.06" font-weight="normal" >transfer</text>
<line x1="118.80" y1="370.40" x2="118.80" y2="388.00" stroke="#000" stroke-width="1.1" />
<polygon points="116.4,387.4 121.2,387.4 118.8,392.4" fill="#000"/>
<text x="443.10" y="374.80" font-size="8.0" text-anchor="middle" fill="#000" stroke="#000" stroke-width="0.06" font-weight="normal" >PCR</text>
<text x="443.10" y="383.80" font-size="8.0" text-anchor="middle" fill="#000" stroke="#000" stroke-width="0.06" font-weight="normal" >neg</text>
<line x1="443.10" y1="389.20" x2="443.10" y2="405.60" stroke="#000" stroke-width="1.5" stroke-dasharray="2.5,2"/>
<polygon points="440.7,405.3 445.5,405.3 443.1,411.2" fill="#000"/>
</svg>
</body></html>
